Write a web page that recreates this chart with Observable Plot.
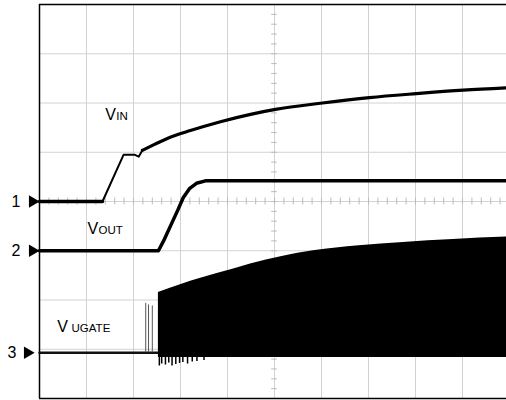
<!DOCTYPE html>
<html>
<head>
<meta charset="utf-8">
<script src="https://cdn.jsdelivr.net/npm/d3@7"></script>
<script src="https://cdn.jsdelivr.net/npm/@observablehq/plot@0.6"></script>
<style>
  html, body { margin: 0; padding: 0; background: #fff; }
  #chart svg { display: block; }
</style>
</head>
<body>
<div id="chart"></div>
<script>
// Time in horizontal divisions (0..10), levels in vertical divisions (0..8)
const vinT   = [0, 1.34, 1.79, 2.02, 2.11, 2.19, 2.36, 2.72, 3.21, 3.85, 4.49, 5.02, 6.02, 7.02, 8.02, 9.02, 10];
const vinV   = [4.0, 4.0, 4.95, 4.95, 4.91, 5.04, 5.12, 5.28, 5.44, 5.62, 5.77, 5.87, 6.0, 6.11, 6.19, 6.26, 6.31];

const voutT  = [0, 2.53, 2.64, 2.79, 2.94, 3.06, 3.19, 3.34, 3.53, 10];
const voutV  = [3.0, 3.0, 3.2, 3.51, 3.82, 4.08, 4.26, 4.37, 4.42, 4.42];

const gateBaseT = [0, 2.53];
const gateBaseV = [0.93, 0.93];
const gateT    = [2.53, 3.0, 3.43, 4.13, 4.49, 5.83, 6.8, 7.74, 8.8, 10];
const gateHigh = [2.15, 2.31, 2.44, 2.63, 2.73, 3.0, 3.1, 3.17, 3.23, 3.28];
const gateLow  = 0.83;
const spikeT   = [2.26, 2.32, 2.40];
const spikeV   = [1.93, 1.90, 1.88];
const dipT     = [2.55, 2.6, 2.68, 2.75, 2.82, 2.9, 2.98, 3.05, 3.15, 3.25, 3.35, 3.5];
const dipV     = [0.66, 0.70, 0.68, 0.72, 0.66, 0.69, 0.71, 0.73, 0.70, 0.74, 0.75, 0.77];

const labelMain = ["V", "V", "V"];
const labelSub  = ["IN", "OUT", "\u00a0UGATE"];
const labelX    = [1.40, 1.02, 0.38];
const labelY    = [5.66, 3.33, 1.36];

const chanNames  = ["1", "2", "3"];
const chanLevels = [4.0, 3.0, 0.93];

const gridX = d3.range(1, 10);
const gridY = d3.range(1, 8);
const minorX = d3.range(0, 10.01, 0.2);
const minorY = d3.range(0, 8.01, 0.2);

const vin  = vinT.map((t, i) => ({t, v: vinV[i]}));
const vout = voutT.map((t, i) => ({t, v: voutV[i]}));
const gateBase = gateBaseT.map((t, i) => ({t, v: gateBaseV[i]}));
const gate = gateT.map((t, i) => ({t, hi: gateHigh[i], lo: gateLow}));
const spikes = spikeT.map((t, i) => ({t, v: spikeV[i]}));
const dips = dipT.map((t, i) => ({t, v: dipV[i]}));
const labels = labelMain.map((m, i) => ({m, s: labelSub[i], x: labelX[i], y: labelY[i]}));
const chans = chanNames.map((n, i) => ({n, y: chanLevels[i], i}));

const font = "'Liberation Sans', Arial, sans-serif";
const gridColor = "#d2d2d2";

const chart = Plot.plot({
  width: 506,
  height: 400,
  x: {domain: [0, 10], range: [39, 509], axis: null},
  y: {domain: [0, 8], range: [398, 4], axis: null},
  style: {background: "#fff", fontFamily: font, overflow: "visible"},
  marks: [
    // grid
    Plot.ruleX(gridX, {x: d => d, y1: () => 0, y2: () => 8, stroke: gridColor, strokeWidth: 1}),
    Plot.ruleY(gridY, {y: d => d, x1: () => 0, x2: () => 10, stroke: gridColor, strokeWidth: 1}),
    // minor ticks on centre cross
    Plot.ruleX(minorX, {x: d => d, y1: () => 3.93, y2: () => 4.07, stroke: "#bbb", strokeWidth: 1}),
    Plot.ruleY(minorY, {y: d => d, x1: () => 4.94, x2: () => 5.06, stroke: "#bbb", strokeWidth: 1}),
    // frame
    Plot.ruleX([0], {x: d => d, y1: () => 0, y2: () => 8, stroke: "#000", strokeWidth: 1.5}),
    Plot.ruleY([0, 8], {y: d => d, x1: () => 0, x2: () => 10, stroke: "#000", strokeWidth: 1.5}),
    // VUGATE
    Plot.line(gateBase, {x: "t", y: "v", stroke: "#111", strokeWidth: 2.5}),
    Plot.ruleX(spikes, {x: "t", y1: () => 0.93, y2: "v", stroke: "#555", strokeWidth: 1}),
    Plot.ruleX(dips, {x: "t", y1: () => 0.85, y2: "v", stroke: "#000", strokeWidth: 1.5}),
    Plot.areaY(gate, {x: "t", y1: "lo", y2: "hi", fill: "#000", curve: "monotone-x"}),
    // VOUT
    Plot.line(vout, {x: "t", y: "v", stroke: "#000", strokeWidth: 3.5, strokeLinejoin: "round"}),
    // VIN
    Plot.line(vin.filter(d => d.t <= 2.19), {x: "t", y: "v", stroke: "#000", strokeWidth: 2, strokeLinejoin: "round"}),
    Plot.line(vin.filter(d => d.t <= 1.34), {x: "t", y: "v", stroke: "#000", strokeWidth: 3.5}),
    Plot.line(vin.filter(d => d.t >= 2.19), {x: "t", y: "v", stroke: "#000", strokeWidth: 3.2, curve: "monotone-x"}),
    // trace labels
    Plot.text(labels, {x: "x", y: "y", text: "m", textAnchor: "start", lineAnchor: "bottom", fontSize: 16, fill: "#000"}),
    Plot.text(labels, {x: "x", y: "y", text: "s", textAnchor: "start", lineAnchor: "bottom", fontSize: 11.5, dx: 11, fill: "#000"}),
    // channel markers
    Plot.text(chans.filter(d => d.i < 2), {x: () => 0, y: "y", text: "n", textAnchor: "end", lineAnchor: "middle", fontSize: 16, dx: -19, fill: "#000"}),
    Plot.text(chans.filter(d => d.i === 2), {x: () => 0, y: "y", text: "n", textAnchor: "end", lineAnchor: "middle", fontSize: 16, dx: -23, fill: "#000"}),
    Plot.dot(chans.filter(d => d.i < 2), {x: () => 0, y: "y", symbol: "triangle", rotate: 90, r: 4.6, fill: "#000", stroke: null, dx: -7}),
    Plot.dot(chans.filter(d => d.i === 2), {x: () => 0, y: "y", symbol: "triangle", rotate: 90, r: 4.6, fill: "#000", stroke: null, dx: -12})
  ]
});
document.getElementById("chart").appendChild(chart);
</script>
</body>
</html>
